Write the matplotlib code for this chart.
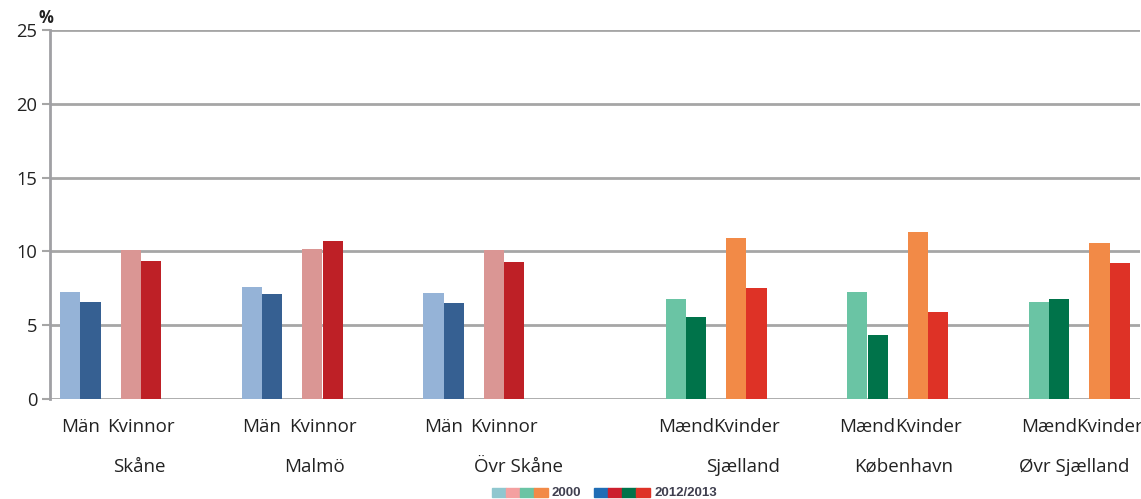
import numpy as np
import matplotlib.pyplot as plt
from matplotlib.patches import Rectangle
from matplotlib.transforms import blended_transform_factory

plt.rcParams['font.family'] = ['Open Sans', 'DejaVu Sans']

regions = ['Skåne', 'Malmö', 'Övr Skåne', 'Sjælland', 'København', 'Øvr Sjælland']
sex_se = ['Män', 'Kvinnor']
sex_dk = ['Mænd', 'Kvinder']
# values per region: [men 2000, men 2012/13, women 2000, women 2012/13]
v2000_men = [7.25, 7.6, 7.2, 6.8, 7.25, 6.6]
v2012_men = [6.6, 7.1, 6.5, 5.55, 4.35, 6.8]
v2000_women = [10.1, 10.15, 10.1, 10.9, 11.3, 10.55]
v2012_women = [9.35, 10.7, 9.25, 7.5, 5.9, 9.2]

c_se = ['#95B3D7', '#366092', '#DA9694', '#BE2026']
c_dk = ['#6AC4A4', '#00734A', '#F28A47', '#DE3226']
leg2000 = ['#8FC7CF', '#F4A0A0', '#6AC4A4', '#F28A47']
leg2012 = ['#1F6DB5', '#CC1F2E', '#00734A', '#DE3226']

# slot index of the "men" category for each region (empty slots between groups)
men_slot = [0, 3, 6, 10, 13, 16]
label_off = [0.97, 0.86, 1.24, 0.95, 0.6, 0.41]

fig = plt.figure(figsize=(11.41, 4.99), dpi=100)
ax = fig.add_axes([50/1141, 1-399/499, 1090/1141, 369/499])

w = 0.335
ticks, tlabels = [], []
for i, r in enumerate(regions):
    cols = c_se if i < 3 else c_dk
    labs = sex_se if i < 3 else sex_dk
    m = men_slot[i]
    k = m + 1
    ax.bar(m - w/2, v2000_men[i], w, color=cols[0], zorder=3)
    ax.bar(m + w/2, v2012_men[i], w, color=cols[1], zorder=3)
    ax.bar(k - w/2, v2000_women[i], w, color=cols[2], zorder=3)
    ax.bar(k + w/2, v2012_women[i], w, color=cols[3], zorder=3)
    ticks += [m, k]
    tlabels += labs

ax.set_xlim(-0.5, 17.5)
ax.set_ylim(0, 25)
ax.set_yticks(range(0, 26, 5))
ax.yaxis.grid(True, color='#A6A6A6', linewidth=2, zorder=0)
ax.set_axisbelow(True)
ax.set_xticks(ticks)
ax.set_xticklabels(tlabels, fontsize=13.5, color='#222222')
ax.tick_params(axis='x', length=0, pad=14)
ax.tick_params(axis='y', length=6, width=1.5, color='#A6A6A6', labelsize=13.2,
               labelcolor='#222222', pad=3)
for s in ['top', 'right', 'bottom']:
    ax.spines[s].set_visible(False)
ax.spines['left'].set_color('#A0A0A4')
ax.spines['left'].set_linewidth(2)

tr = blended_transform_factory(ax.transData, fig.transFigure)
for i, r in enumerate(regions):
    ax.text(men_slot[i] + label_off[i], 1 - 467/499, r, transform=tr,
            ha='center', va='center', fontsize=13.5, color='#222222')

fig.text(46/1141, 1-18/499, '%', fontsize=12, fontweight='bold', ha='center',
         va='center', color='#222222')

# legend
pw, ph = 14/1141, 9/499
y0 = 1 - 497/499
x = 492/1141
for c in leg2000:
    fig.patches.append(Rectangle((x, y0), pw, ph, color=c, transform=fig.transFigure))
    x += pw
fig.text(x + 4/1141, y0 + ph/2, '2000', fontsize=9.5, fontweight='bold',
         family='Liberation Sans', color='#3F3F4F', va='center')
x = 594/1141
for c in leg2012:
    fig.patches.append(Rectangle((x, y0), pw, ph, color=c, transform=fig.transFigure))
    x += pw
fig.text(x + 4/1141, y0 + ph/2, '2012/2013', fontsize=9.5, fontweight='bold',
         family='Liberation Sans', color='#3F3F4F', va='center')

fig.savefig('out.png', dpi=100)
